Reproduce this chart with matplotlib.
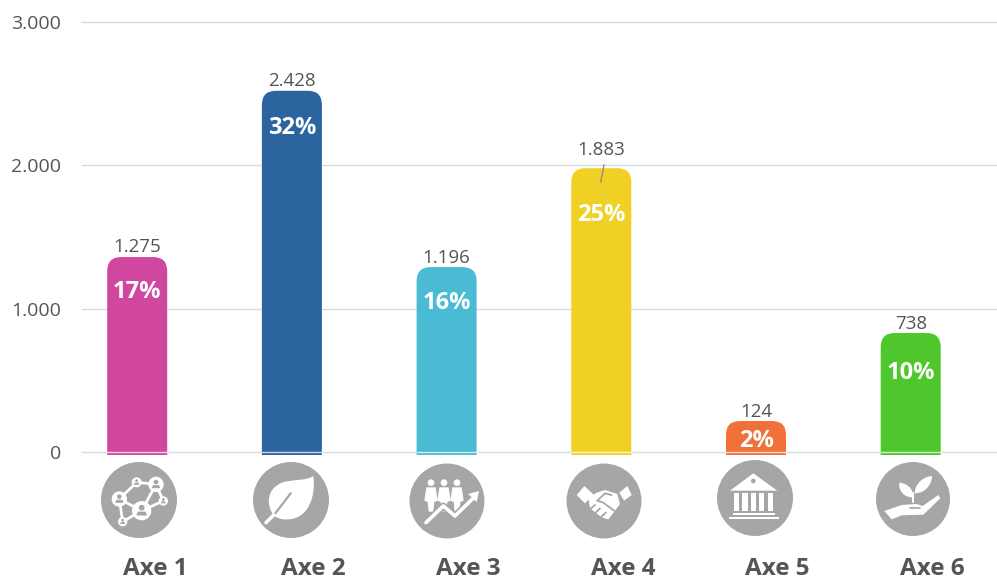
import matplotlib
matplotlib.use("Agg")
import matplotlib.pyplot as plt
from matplotlib.patches import Circle, PathPatch, Polygon
from matplotlib.path import Path

W, H = 997, 581

categories = ["Axe 1", "Axe 2", "Axe 3", "Axe 4", "Axe 5", "Axe 6"]
# bar heights, they sit a bit above the printed values in the source
bar_heights = [1360, 2520, 1290, 1980, 216, 830]
value_labels = ["1.275", "2.428", "1.196", "1.883", "124", "738"]
share_labels = ["17%", "32%", "16%", "25%", "2%", "10%"]
bar_colors = ["#D1479F", "#2C64A0", "#4ABBD2", "#F0D024", "#F0703A", "#4FC72C"]
y_ticks = [0, 1000, 2000, 3000]
y_tick_labels = ["0", "1.000", "2.000", "3.000"]

# offsets below / above the top of the bar, in pixels
share_offsets = [35, 37, 36, 47, 20, 40]
value_offsets = [10, 10, 9, 18, 9, 9]
# axis names are not centred under the bars in the source
name_x = [155, 313, 468, 623, 777, 932]
name_baseline = 575

GREY = "#A6A6A6"
TEXT = "#555555"
FONT = "Open Sans"


def px_axes(fig):
    ax = fig.add_axes([0, 0, 1, 1], zorder=5)
    ax.set_xlim(0, W)
    ax.set_ylim(H, 0)
    ax.axis("off")
    ax.patch.set_alpha(0)
    return ax


def rounded_bar(ax, x, height, width, bottom, rx, ry, color):
    """Bar with rounded top corners, radii given in data units."""
    l, r = x - width / 2, x + width / 2
    t = height
    verts = [(l, bottom), (l, t - ry), (l, t), (l + rx, t), (r - rx, t), (r, t), (r, t - ry),
             (r, bottom), (l, bottom)]
    codes = [Path.MOVETO, Path.LINETO, Path.CURVE3, Path.CURVE3, Path.LINETO, Path.CURVE3, Path.CURVE3,
             Path.LINETO, Path.CLOSEPOLY]
    bar = PathPatch(Path(verts, codes), facecolor=color, edgecolor="none", zorder=3)
    ax.add_patch(bar)
    bar.set_clip_on(False)


def zoom_xy(pts, ox, oy):
    return [(ox + a / 3, oy + b / 3) for a, b in pts]


def shape(ov, pts, ox, oy, color="white", z=7):
    ov.add_patch(Polygon(zoom_xy(pts, ox, oy), closed=True, facecolor=color, edgecolor="none", zorder=z))


def stroke(ov, pts, ox, oy, lw=1.5, color="white", z=7):
    p = zoom_xy(pts, ox, oy)
    ov.plot([a for a, b in p], [b for a, b in p], color=color, lw=lw, zorder=z, solid_capstyle="round")


def dot(ov, x, y, r, ox, oy, color="white", z=7):
    cx, cy = zoom_xy([(x, y)], ox, oy)[0]
    ov.add_patch(Circle((cx, cy), r / 3, facecolor=color, edgecolor="none", zorder=z))


def curve(ov, verts, codes, ox, oy, color="white", z=7):
    ov.add_patch(PathPatch(Path(zoom_xy(verts, ox, oy), codes), facecolor=color, edgecolor="none", zorder=z))


def icon_network(ov, ox, oy):
    nodes = [(185, 212, 29), (228, 133, 23), (170, 127, 15), (118, 177, 23), (250, 183, 14), (128, 245, 14)]
    stroke(ov, [(118, 177), (170, 127), (228, 133), (185, 212), (118, 177)], ox, oy, lw=2)
    stroke(ov, [(228, 133), (250, 183), (185, 212), (128, 245)], ox, oy, lw=2)
    stroke(ov, [(118, 177), (128, 245)], ox, oy, lw=2)
    for x, y, r in nodes:
        dot(ov, x, y, r, ox, oy)
        dot(ov, x, y - r * 0.3, r * 0.3, ox, oy, color=GREY, z=8)
        shape(ov, [(x - r * 0.55, y + r * 0.5), (x - r * 0.4, y + r * 0.1), (x + r * 0.4, y + r * 0.1),
                   (x + r * 0.55, y + r * 0.5)], ox, oy, color=GREY, z=8)


def icon_leaf(ov, ox, oy):
    M, C, Z = Path.MOVETO, Path.CURVE4, Path.CLOSEPOLY
    curve(ov, [(583, 228), (555, 195), (560, 140), (615, 125), (650, 118), (680, 122), (700, 108),
               (708, 170), (685, 245), (610, 238), (600, 237), (590, 233), (583, 228), (583, 228)],
          [M, C, C, C, C, C, C, C, C, C, C, C, C, Z], ox, oy)
    stroke(ov, [(558, 248), (586, 220)], ox, oy, lw=2.5)
    stroke(ov, [(586, 220), (632, 160)], ox, oy, lw=1.6, color=GREY, z=8)


def icon_people(ov, ox, oy):
    for x in [1053, 1092, 1131]:
        dot(ov, x, 128, 10, ox, oy)
        shape(ov, [(x - 14, 142), (x + 14, 142), (x + 20, 182), (x + 10, 186), (x + 7, 215), (x - 7, 215),
                   (x - 10, 186), (x - 20, 182)], ox, oy)
    stroke(ov, [(1038, 248), (1090, 198), (1125, 228), (1182, 172)], ox, oy, lw=5, color=GREY, z=8)
    stroke(ov, [(1038, 248), (1090, 198), (1125, 228), (1182, 172)], ox, oy, lw=2.6, z=9)
    shape(ov, [(1197, 153), (1190, 186), (1165, 162)], ox, oy, z=9)


def icon_handshake(ov, ox, oy):
    shape(ov, [(110, 165), (133, 138), (160, 163), (135, 190)], ox, oy)
    shape(ov, [(238, 158), (262, 138), (275, 165), (252, 182)], ox, oy)
    shape(ov, [(145, 172), (170, 158), (195, 150), (232, 162), (240, 192), (205, 238), (185, 232),
               (150, 205)], ox, oy)
    stroke(ov, [(172, 182), (195, 160), (215, 165)], ox, oy, lw=1.3, color=GREY, z=8)
    stroke(ov, [(172, 182), (190, 188), (222, 212)], ox, oy, lw=1.3, color=GREY, z=8)
    for a, b in [((150, 208), (165, 195)), ((165, 220), (180, 205)), ((182, 232), (197, 218))]:
        stroke(ov, [a, b], ox, oy, lw=1.3, color=GREY, z=8)


def icon_bank(ov, ox, oy):
    shape(ov, [(570, 152), (640, 100), (712, 152)], ox, oy)
    dot(ov, 640, 123, 7, ox, oy, color=GREY, z=8)
    for x in [590, 615, 640, 665, 692]:
        shape(ov, [(x - 8, 158), (x + 8, 158), (x + 8, 214), (x - 8, 214)], ox, oy)
    shape(ov, [(578, 218), (706, 218), (706, 226), (578, 226)], ox, oy)
    shape(ov, [(567, 230), (717, 230), (717, 238), (567, 238)], ox, oy)


def icon_hand(ov, ox, oy):
    M, C, Z = Path.MOVETO, Path.CURVE4, Path.CLOSEPOLY
    curve(ov, [(1118, 172), (1090, 172), (1075, 150), (1078, 128), (1100, 130), (1122, 145), (1118, 172),
               (1118, 172)], [M, C, C, C, C, C, C, Z], ox, oy)
    curve(ov, [(1124, 160), (1125, 130), (1150, 110), (1176, 108), (1175, 135), (1155, 160), (1124, 160),
               (1124, 160)], [M, C, C, C, C, C, C, Z], ox, oy)
    stroke(ov, [(1120, 185), (1120, 160)], ox, oy, lw=1.5)
    shape(ov, [(1033, 213), (1085, 195), (1130, 192), (1148, 198), (1195, 165), (1201, 175), (1150, 224),
               (1085, 226), (1055, 238)], ox, oy)
    stroke(ov, [(1110, 204), (1140, 204)], ox, oy, lw=1.2, color=GREY, z=8)


fig = plt.figure(figsize=(W / 100, H / 100), dpi=100, facecolor="white")

# plot area runs from the first gridline pixel to the right edge, 0 at y=452 and 3000 at y=22
ax = fig.add_axes([82 / W, 1 - 452 / H, (W - 82) / W, 430 / H])
px_per_unit = 154.7
ax.set_xlim((82 - 137.2) / px_per_unit, (W - 137.2) / px_per_unit)
ax.set_ylim(0, 3000)
ax.set_yticks(y_ticks)
ax.set_yticklabels(y_tick_labels, fontsize=14, color=TEXT, family=FONT)
ax.set_xticks([])
ax.tick_params(axis="y", length=0, pad=15)
ax.grid(axis="y", color="#D9D9D9", lw=1)
ax.set_axisbelow(True)
for line in ax.get_ygridlines():
    line.set_clip_on(False)
for s in ax.spines.values():
    s.set_visible(False)

data_per_px = 3000 / 430
bar_w = 60 / px_per_unit
for i, h in enumerate(bar_heights):
    rounded_bar(ax, i, h, bar_w, -3 * data_per_px, 14 / px_per_unit, 14 * data_per_px, bar_colors[i])
    ax.plot([i - bar_w / 2, i + bar_w / 2], [0, 0], color="white", lw=1, alpha=0.75, zorder=4, clip_on=False)
    ax.annotate(value_labels[i], (i, h), xytext=(0, value_offsets[i] * 0.72), textcoords="offset points",
                ha="center", va="center", fontsize=13.5, color=TEXT, family=FONT, zorder=6)
    ax.annotate(share_labels[i], (i, h), xytext=(0, -share_offsets[i] * 0.72), textcoords="offset points",
                ha="center", va="center", fontsize=17, color="white", fontweight="bold", family=FONT, zorder=6)

ov = px_axes(fig)

# leader line of the 1.883 label
ov.plot([604, 600.7], [165, 182], color="#8C8C8C", lw=1, zorder=6)

icons = [
    (139, 500, 38, icon_network, 80, 440),
    (291, 500, 38, icon_leaf, 80, 440),
    (447, 501, 37.5, icon_people, 80, 440),
    (604, 501, 37.5, icon_handshake, 540, 440),
    (755, 498, 38, icon_bank, 540, 440),
    (913, 499, 37, icon_hand, 540, 440),
]
for cx, cy, r, draw, ox, oy in icons:
    ov.add_patch(Circle((cx, cy), r, facecolor=GREY, edgecolor="none", zorder=6))
    draw(ov, ox, oy)

for name, x in zip(categories, name_x):
    ov.text(x, name_baseline, name, ha="center", va="baseline", fontsize=17.5, fontweight="bold", color=TEXT,
            family=FONT)

fig.savefig("out.png", dpi=100, facecolor="white")
